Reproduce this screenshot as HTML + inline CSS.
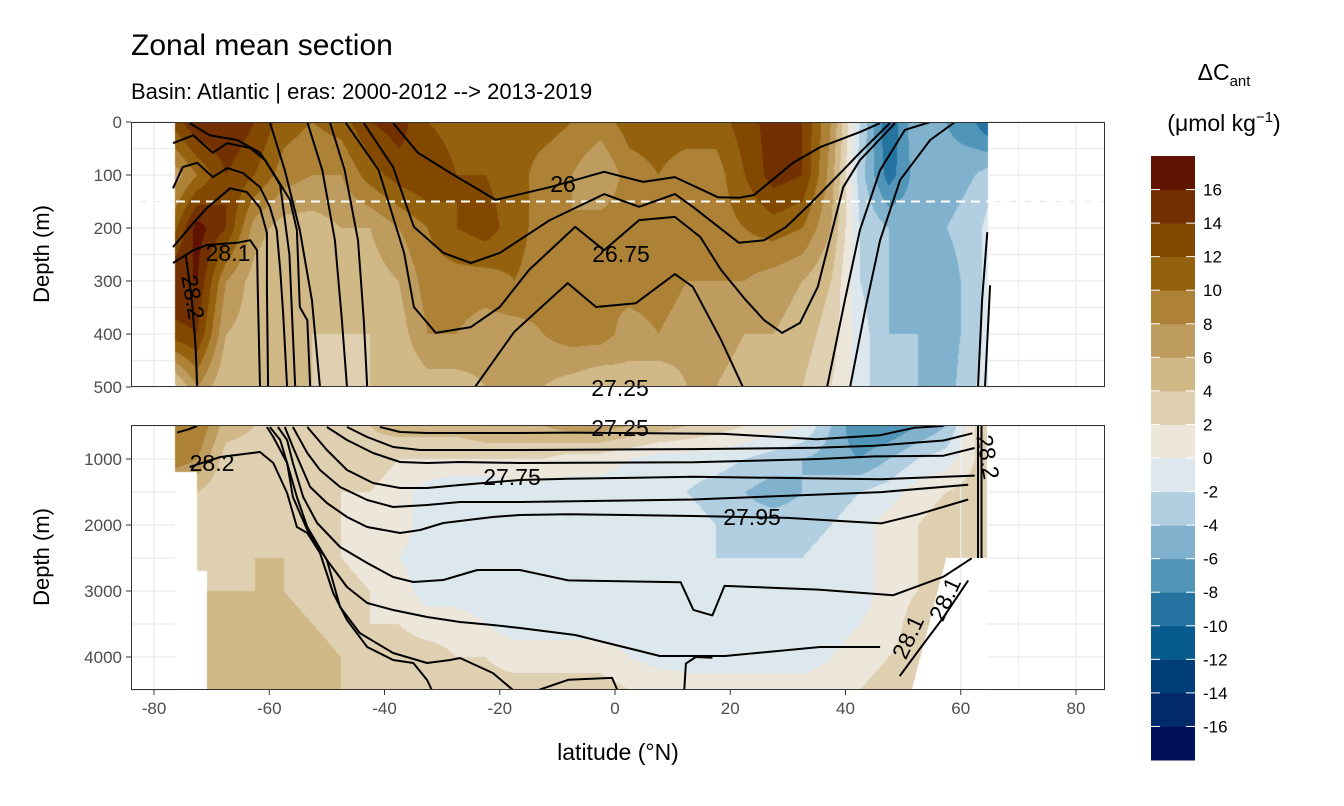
<!DOCTYPE html>
<html><head><meta charset="utf-8"><style>
body{margin:0;background:#fff;width:1344px;height:806px;overflow:hidden;font-family:"Liberation Sans",sans-serif}
canvas{position:absolute}
svg{position:absolute;left:0;top:0}
</style></head><body>
<canvas id="cTop" width="974" height="265" style="left:131px;top:122px"></canvas>
<canvas id="cBot" width="974" height="265" style="left:131px;top:425px"></canvas>
<svg id="svg" width="1344" height="806"></svg>
<script>
const lats=[-77.5,-72.5,-67.5,-62.5,-57.5,-52.5,-47.5,-42.5,-37.5,-32.5,-27.5,-22.5,-17.5,-12.5,-7.5,-2.5,2.5,7.5,12.5,17.5,22.5,27.5,32.5,37.5,42.5,47.5,52.5,57.5,62.5,65];
const topDepths=[0,100,200,300,400,500];
const topValues=[
[12,16,16,14,11,10,11,14,15,12,11,11,11,11,10,9,11,11,11,11,13,15,14,8,-2,-10,-4,-6,-8,-10],
[6,10,14,12,9,8,8,11,13,14,12,12,11,9,8,6,9,10,9,9,12,15,14,7,-3,-9,-5,-5,-4,-3],
[10,17,14,7,5,5,6,6,8,10,12,13,11,9,8,9,9,10,9,9,10,11,10,6,-2,-4,-5,-4,-3,-1],
[16,16,8,5,4,4,4,5,6,9,9,9,10,9,8,8,9,9,8,8,8,7,6,4,-2,-4,-5,-5,-3,-1],
[13,14,6,5,4,4,4,4,5,8,8,7,7,8,9,9,7,8,7,7,6,6,5,3,-1,-4,-4,-5,-3,-1],
[2,8,4,4,4,4,3,4,4,5,5,6,6,6,5,4,5,4,6,6,5,5,4,2,-1,-4,-4,-5,-2,-1]];
const botDepths=[500,1000,1500,2000,2500,3000,3500,4000,4500];
const botValues=[
[8,10,5,4,4,4,4,4,5,5,5,6,6,6,7,7,6,5,4,3,2,1,0,-4,-8,-8,-6,-4,2,2],
[10,8,3,3,2,3,3,3,2,2,2,2,2,2,1,1,0,-1,-1,-1,-2,-3,-4,-5,-6,-4,-2,-1,2,2],
[4,4,2,3,3,3,2,2,1,-1,-2,-2,-1,-1,-1,-1,-1,-1,-2,-3,-4,-5,-4,-3,-2,-1,1,2,3,3],
[2,2,2,3,3,3,2,1,1,-1,-1,-1,-1,-1,-1,-1,-1,-1,-1,-2,-3,-3,-3,-2,-1,1,2,3,3,3],
[3,3,3,4,4,3,2,1,0,-1,-1,-1,-1,-1,-1,-1,-1,-1,-1,-2,-2,-2,-2,-1,-1,1,2,3,3,3],
[4,4,4,4,4,3,3,2,1,-1,-1,-1,-1,-1,-1,-1,-1,-1,-1,-2,-2,-2,-2,-1,-1,1,2,3,3,3],
[5,5,5,5,5,4,3,2,2,1,1,0,-1,-1,-1,-1,-1,-1,-1,-2,-2,-2,-1,-1,0,1,3,6,6,6],
[5,5,5,5,5,5,4,3,3,3,2,2,1,1,1,1,0,-1,-1,-1,-1,-1,-1,0,1,2,3,3,3,3],
[5,5,5,5,5,5,4,4,3,3,3,3,3,3,3,3,2,2,1,1,1,1,1,1,2,3,3,3,3,3]];
const binColors=["#00105a","#02296a","#003e7a","#075a8c","#2473a1","#5195b9","#81b2cd","#b1cfe0","#dce8ee","#ece6db","#dfd0b2","#d0b887","#be9c5f","#ad8236","#94620f","#824800","#723000","#5f1300"];
const legendTicks=[16,14,12,10,8,6,4,2,0,-2,-4,-6,-8,-10,-12,-14,-16];
const xTicks=[-80,-60,-40,-20,0,20,40,60,80];
const topTicks=[0,100,200,300,400,500];
const botTicks=[1000,2000,3000,4000];
const topContours=[
{lat:[-38.5,-34.2,-28.6,-20.7,-11.3,-1.9,4.9,10.4,17.9,21.5,24.1,30.9,35.7,42.5,46],dep:[2,58,96,147,123,94,113,104,142,143,138,77,47,19,2]},
{lat:[-43.6,-38.5,-34.9,-29.8,-25,-20,-11.3,-1.9,4.2,10.4,13.5,21.5,25.9,29.7,34,40.1,42.5,47.7],dep:[2,85,198,247,266,247,185,136,160,136,160,228,223,198,153,85,58,2]},
{lat:[-46.7,-41,-36.6,-34.9,-31.1,-25,-20,-14.9,-6.9,-1.9,4.2,10.4,14.8,18.4,22.7,25.9,29,32.1,35.2,39.6,42.5,48.6],dep:[2,91,247,349,398,387,349,279,198,242,185,179,217,279,336,374,398,379,311,123,72,2]},
{lat:[-24.3,-17.5,-8.2,-3.3,3.6,10.4,13.5,18.4,22.2],dep:[500,396,304,349,342,287,311,411,500]},
{lat:[-73.8,-70.3,-65.6,-61.6,-59.3,-56.4,-55.2,-54.7,-53.4,-52.9],dep:[2,25,34,58,96,147,204,349,374,500]},
{lat:[-76.7,-75,-72.5,-69.8,-67.3,-64.6,-61.6,-59.9,-58.7,-58.1,-57.6,-56.9],dep:[125,85,77,104,87,96,123,160,204,279,360,500]},
{lat:[-76.7,-73.2,-70.8,-66.8,-63.9,-61.6,-60.4,-60.4,-60.2],dep:[236,191,162,125,132,162,209,311,500]},
{lat:[-76.7,-73.2,-70.8,-65.6,-63.3,-62.1,-62,-61.6],dep:[266,242,232,228,223,242,311,500]},
{lat:[-76.7,-73.2,-69.8,-67.3,-63.3,-60.7,-58.1,-56.5,-55.5],dep:[40,25,58,40,49,72,119,250,500]},
{lat:[-59.9,-57.3,-54.7,-52.6,-51.2],dep:[0,91,204,336,500]},
{lat:[-53.4,-50.8,-48.6,-47.4,-46.5],dep:[0,91,223,374,500]},
{lat:[-49.5,-46.9,-44.6,-43.6,-43],dep:[0,91,223,374,500]},
{lat:[36.8,39.9,42.5,46,50.3,54.7],dep:[500,336,204,91,15,0]},
{lat:[40.8,43.4,46,49.5,54.7,59],dep:[500,355,223,109,34,0]},
{lat:[64.6,63.7,63],dep:[208,336,500]},
{lat:[65.1,64.2],dep:[308,500]},
{lat:[-74.5,-73.5,-72.8,-72.5],dep:[250,330,420,500]}];
const botContours=[
{lat:[-40.8,-37.3,-32.6,-16.5,-8,19,35,46,52,57],dep:[515,591,606,606,600,620,700,640,526,498]},
{lat:[-46.5,-43,-38.5,-33.8,-26.9,-16.5,-8,13.6,35,45,57,62],dep:[515,667,818,864,864,864,860,850,830,800,720,610]},
{lat:[-50,-46.5,-42,-37.3,-32.6,-26.9,-16.5,13.6,35.3,45,57,62.4],dep:[515,712,909,1045,1061,1045,1061,1050,1000,960,950,833]},
{lat:[-53.4,-50,-46.5,-42,-37.3,-32.6,-26.9,-16.5,-8.1,13.6,46.2,62.4],dep:[515,864,1167,1364,1439,1439,1394,1318,1300,1270,1306,1251]},
{lat:[-55.9,-53.4,-51.2,-47.7,-43,-38.5,-32.6,-26.9,-16.5,13.6,46.2,61.3],dep:[515,909,1167,1424,1621,1727,1697,1652,1652,1613,1502,1390]},
{lat:[-57.3,-55.9,-54.7,-52.9,-50,-46.5,-43,-37.3,-33.8,-29.8,-21.2,-16.5,-8.1,13.6,29.9,46.2,52.7,61.3],dep:[515,818,1061,1424,1667,1879,2030,2121,2076,1970,1879,1848,1836,1864,1892,1976,1836,1613]},
{lat:[-58.5,-56.9,-55.9,-54.1,-51.7,-47.7,-43,-38.5,-35,-29.8,-23.9,-16.5,-8.1,11.4,13.6,16.9,19,35.3,48.3,57,61.9],dep:[515,712,1061,1576,1970,2333,2576,2788,2864,2833,2682,2682,2840,2868,3286,3369,2923,2979,3063,2784,2505]},
{lat:[-59.9,-58.1,-56.9,-55.9,-53.4,-50,-46.5,-43,-38.5,-32.6,-26.9,-21.2,-16.5,-6.9,7.8,19.1,35.6,46],dep:[515,712,1061,1576,2076,2530,2939,3182,3288,3394,3470,3515,3560,3666,3985,3985,3848,3848]},
{lat:[-60.4,-59.3,-56.9,-55.2,-53.4,-50,-47.7,-44.3,-38.5,-32.6,-28.6,-26.9,-21.2,-17.7],dep:[515,667,1061,1576,2030,2530,3242,3636,3939,4091,4045,4015,4242,4500]},
{lat:[-73.8,-68.5,-61.6,-59.3,-56.9,-55.2,-53.4,-51.2,-48.9,-46.5,-43,-38.5,-35,-32.6,-31.8],dep:[1121,970,894,1061,1515,2030,2121,2424,3030,3439,3848,4045,4091,4348,4500]},
{lat:[49.4,52.7,57,61.3],dep:[4290,3899,3397,2840]},
{lat:[-14.6,-8.1,-0.5,0.6],dep:[4540,4345,4317,4540]},
{lat:[12,12.3,14,16.9],dep:[4540,4100,4000,4011]},
{lat:[-76,-74,-72.5],dep:[600,550,498]},
{lat:[63,63],dep:[500,2500]},{lat:[63.6,63.6],dep:[500,2500]}];

const X0=131,W=974,H=265,TOPY=122,BOTY=425;
const xOf=l=>615+l*5.7625;
const yTop=d=>122+d*0.53;
const yBot=d=>426+(d-500)*0.066;
function interp(rows,depths,lat,d){
  let j=0;while(j<depths.length-2&&d>depths[j+1])j++;
  let i=0;while(i<lats.length-2&&lat>lats[i+1])i++;
  let ty=Math.max(0,Math.min(1,(d-depths[j])/(depths[j+1]-depths[j])));
  let tx=Math.max(0,Math.min(1,(lat-lats[i])/(lats[i+1]-lats[i])));
  const a=rows[j][i],b=rows[j][i+1],c=rows[j+1][i],e=rows[j+1][i+1];
  return (a*(1-tx)+b*tx)*(1-ty)+(c*(1-tx)+e*tx)*ty;
}
function hex(h){return [parseInt(h.slice(1,3),16),parseInt(h.slice(3,5),16),parseInt(h.slice(5,7),16)];}
const rgb=binColors.map(hex);
function paint(id,rows,depths,py0,invY,minL,maxL){
  const cv=document.getElementById(id),ctx=cv.getContext('2d');
  const im=ctx.createImageData(W,H);
  for(let y=0;y<H;y++){const d=invY(py0+y+0.5);
    for(let x=0;x<W;x++){const lat=(X0+x+0.5-615)/5.7625;const k=(y*W+x)*4;
      let r=255,g=255,b=255;
      if(lat>=minL(d)&&lat<=maxL(d)){
        const v=interp(rows,depths,lat,d);
        let bi=Math.floor((v+18)/2);bi=Math.max(0,Math.min(17,bi));[r,g,b]=rgb[bi];
      }
      im.data[k]=r;im.data[k+1]=g;im.data[k+2]=b;im.data[k+3]=255;}}
  ctx.putImageData(im,0,0);
}
paint('cTop',topValues,topDepths,TOPY,y=>(y-122)/0.53,d=>-76.4,d=>64.7);
paint('cBot',botValues,botDepths,BOTY,y=>500+(y-426)/0.066,d=>d<1200?-76.4:(d<2700?-72.6:-70.8),d=>d<=2500?64.5:57.5-(d-2500)/2000*6);

const svg=document.getElementById('svg'),NS='http://www.w3.org/2000/svg';
function el(t,a,p){const e=document.createElementNS(NS,t);for(const k in a)e.setAttribute(k,a[k]);(p||svg).appendChild(e);return e;}
function txt(s,a,p){const e=el('text',a,p);e.textContent=s;return e;}
const grid=el('g',{});


const gx=[-80,-70,-60,-50,-40,-30,-20,-10,0,10,20,30,40,50,60,70,80];
[[TOPY,[0,50,100,150,200,250,300,350,400,450,500],yTop,-76.4,64.7],[BOTY,[500,1000,1500,2000,2500,3000,3500,4000,4500],yBot,-70.8,51.5]].forEach(([py,ds,fy,l0,l1])=>{
  gx.forEach(l=>{const x=xOf(l);if(l<l0||l>l1){el('line',{x1:x,x2:x,y1:py,y2:py+H,stroke:'#ebebeb','stroke-width':l%20==0?1.3:0.7},grid);}});
  ds.forEach(d=>{const y=fy(d);el('line',{x1:X0,x2:xOf(-76.4),y1:y,y2:y,stroke:'#ebebeb','stroke-width':1.2},grid);el('line',{x1:xOf(64.7),x2:X0+W,y1:y,y2:y,stroke:'#ebebeb','stroke-width':1.2},grid);});
});
const dl=el('line',{x1:X0,x2:X0+W,y1:yTop(150),y2:yTop(150),stroke:'#fff','stroke-width':2,'stroke-dasharray':'9,6'});


function drawContours(arr,fy,py,name){
  const g=el('g',{});
  const cid=name+'-clip';
  const cp=el('clipPath',{id:cid});el('rect',{x:X0,y:py,width:W,height:H},cp);
  g.setAttribute('clip-path','url(#'+cid+')');
  
  
  arr.forEach(c=>{
    const pts=c.lat.map((l,i)=>xOf(l).toFixed(1)+','+fy(c.dep[i]).toFixed(1)).join(' ');
    const p=el('polyline',{points:pts,fill:'none',stroke:'#000','stroke-width':2,'stroke-linejoin':'round'},g);
    
    
  });
  return g;
}
drawContours(topContours,yTop,TOPY,'top-contours');
drawContours(botContours,yBot,BOTY,'bottom-contours');
const labs=[["26",563,192,0],["26.75",621,262,0],["28.1",228,261,0],["28.2",193,305,80],["27.25",620,396,0],["27.25",620,436,0],["28.2",212,471,0],["27.75",512,485,0],["27.95",752,525,0],["28.1",908,645,-65],["28.1",945,607,-65],["28.2",988,465,80]];
labs.forEach(([s,x,y,r])=>{const t=txt(s,{x:x,y:y,'text-anchor':'middle','font-size':23,fill:'#000',transform:r?`rotate(${r} ${x} ${y-8})`:''});
  
  });
[TOPY,BOTY].forEach((py,i)=>{const r=el('rect',{x:X0+0.5,y:py+0.5,width:W-1,height:H-1,fill:'none',stroke:'#333','stroke-width':1});
  
  });
xTicks.forEach(l=>{const x=xOf(l);el('line',{x1:x,x2:x,y1:690,y2:695,stroke:'#333'});
  const t=txt(String(l),{x:x,y:714,'text-anchor':'middle','font-size':17,fill:'#4d4d4d'});
  
  });
topTicks.forEach(d=>{const y=yTop(d);el('line',{x1:126,x2:131,y1:y,y2:y,stroke:'#333'});
  const t=txt(String(d),{x:122,y:y+6,'text-anchor':'end','font-size':17,fill:'#4d4d4d'});
  
  });
botTicks.forEach(d=>{const y=yBot(d);el('line',{x1:126,x2:131,y1:y,y2:y,stroke:'#333'});
  const t=txt(String(d),{x:122,y:y+6,'text-anchor':'end','font-size':17,fill:'#4d4d4d'});
  
  });
const lg=el('g',{});


binColors.forEach((c,i)=>{const y=760-(i+1)*604/18;const r=el('rect',{x:1151,y:y,width:44,height:604/18+0.5,fill:c},lg);
  
  });
legendTicks.forEach(v=>{const y=760-(v+18)*604/36;
  el('line',{x1:1151,x2:1160,y1:y,y2:y,stroke:'#fff','stroke-width':1},lg);
  el('line',{x1:1186,x2:1195,y1:y,y2:y,stroke:'#fff','stroke-width':1},lg);
  const t=txt(String(v),{x:1203,y:y+6,'font-size':17,fill:'#000'},lg);
  
  });
</script>
<svg width="1344" height="806" style="pointer-events:none">
<text x="131" y="55" font-size="30" fill="#000">Zonal mean section</text>
<text x="131" y="99" font-size="22" fill="#000">Basin: Atlantic | eras: 2000-2012 --&gt; 2013-2019</text>
<text x="49" y="254" font-size="22" text-anchor="middle" transform="rotate(-90 49 254)">Depth (m)</text>
<text x="49" y="557" font-size="22" text-anchor="middle" transform="rotate(-90 49 557)">Depth (m)</text>
<text x="618" y="760" font-size="23" text-anchor="middle">latitude (°N)</text>
<text x="1224" y="80" font-size="23" text-anchor="middle">ΔC<tspan font-size="15" dy="6">ant</tspan></text>
<text x="1224" y="131" font-size="23" text-anchor="middle">(μmol kg<tspan font-size="15" dy="-9">−1</tspan><tspan dy="9">)</tspan></text>
</svg>
</body></html>
